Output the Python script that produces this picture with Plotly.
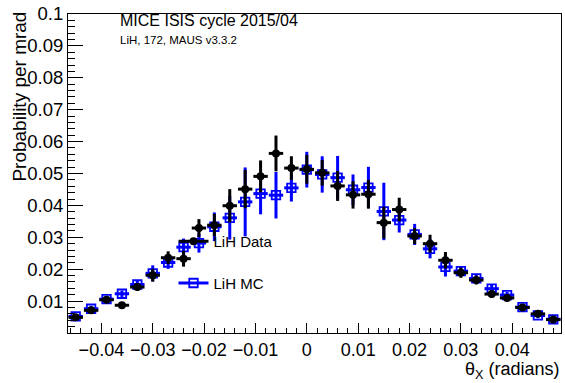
import plotly.graph_objects as go

# bin centres (radians)
theta_x = [-0.045, -0.042, -0.039, -0.036, -0.033, -0.030, -0.027, -0.024,
           -0.021, -0.018, -0.015, -0.012, -0.009, -0.006, -0.003, 0.000,
           0.003, 0.006, 0.009, 0.012, 0.015, 0.018, 0.021, 0.024,
           0.027, 0.030, 0.033, 0.036, 0.039, 0.042, 0.045, 0.048]

lih_data = [0.0049, 0.0071, 0.0104, 0.0087, 0.0144, 0.0181, 0.0236, 0.0233,
            0.0329, 0.0338, 0.0399, 0.0451, 0.0491, 0.0563, 0.0517, 0.0513,
            0.0502, 0.0461, 0.0433, 0.0435, 0.0346, 0.0387, 0.0304, 0.0280,
            0.0228, 0.0189, 0.0166, 0.0122, 0.0110, 0.0080, 0.0060, 0.0042]
lih_data_err = [0.0008, 0.0009, 0.0009, 0.0009, 0.0012, 0.0020, 0.0020, 0.0025,
                0.0028, 0.0035, 0.0052, 0.0060, 0.0050, 0.0056, 0.0037, 0.0045,
                0.0040, 0.0047, 0.0043, 0.0045, 0.0050, 0.0037, 0.0025, 0.0028,
                0.0026, 0.0016, 0.0014, 0.0012, 0.0010, 0.0010, 0.0009, 0.0008]

lih_mc = [0.0052, 0.0076, 0.0106, 0.0123, 0.0152, 0.0187, 0.0221, 0.0269,
          0.0282, 0.0333, 0.0361, 0.0411, 0.0437, 0.0432, 0.0455, 0.0512,
          0.0497, 0.0487, 0.0449, 0.0456, 0.0381, 0.0354, 0.0309, 0.0264,
          0.0207, 0.0194, 0.0171, 0.0139, 0.0119, 0.0081, 0.0055, 0.0043]
lih_mc_err = [0.0008, 0.0009, 0.0009, 0.0010, 0.0012, 0.0025, 0.0020, 0.0027,
              0.0030, 0.0045, 0.0068, 0.0108, 0.0065, 0.0073, 0.0043, 0.0056,
              0.0057, 0.0068, 0.0048, 0.0065, 0.0090, 0.0039, 0.0033, 0.0030,
              0.0030, 0.0016, 0.0014, 0.0012, 0.0010, 0.0010, 0.0009, 0.0008]

x_tick_vals = [-0.04, -0.03, -0.02, -0.01, 0.0, 0.01, 0.02, 0.03, 0.04]
x_tick_text = ["\u22120.04", "\u22120.03", "\u22120.02", "\u22120.01", "0",
               "0.01", "0.02", "0.03", "0.04"]
y_tick_vals = [0.01, 0.02, 0.03, 0.04, 0.05, 0.06, 0.07, 0.08, 0.09, 0.1]
y_tick_text = ["0.01", "0.02", "0.03", "0.04", "0.05", "0.06", "0.07",
               "0.08", "0.09", "0.1"]

FONT = "Liberation Sans, Arial, sans-serif"
BLUE = "#0000ff"

fig = go.Figure()

fig.add_trace(go.Scatter(
    x=theta_x, y=lih_mc, mode="markers", name="LiH MC", showlegend=False,
    marker=dict(symbol="square-open", size=8.5, color=BLUE, line=dict(width=1.8, color=BLUE)),
    error_y=dict(type="data", array=lih_mc_err, color=BLUE, thickness=3, width=0),
    error_x=dict(type="constant", value=0.0014, color=BLUE, thickness=3, width=0),
))
fig.add_trace(go.Scatter(
    x=theta_x, y=lih_data, mode="markers", name="LiH Data", showlegend=False,
    marker=dict(symbol="circle", size=8, color="black"),
    error_y=dict(type="data", array=lih_data_err, color="black", thickness=3, width=0),
    error_x=dict(type="constant", value=0.0014, color="black", thickness=3, width=0),
))

# legend entries
fig.add_trace(go.Scatter(
    x=[None], y=[None], mode="lines+markers", name="LiH Data", legend="legend",
    line=dict(color="black", width=3),
    marker=dict(symbol="circle", size=8, color="black"),
))
fig.add_trace(go.Scatter(
    x=[None], y=[None], mode="lines+markers", name="LiH MC", legend="legend2",
    line=dict(color=BLUE, width=3),
    marker=dict(symbol="square-open", size=8.5, color=BLUE, line=dict(width=1.8, color=BLUE)),
))

fig.update_layout(
    width=565, height=383,
    margin=dict(l=68, r=3, t=12, b=50),
    paper_bgcolor="white", plot_bgcolor="white",
    font=dict(family=FONT, size=18, color="black"),
    legend=dict(x=0.214, y=0.287, xanchor="left", yanchor="middle",
                bgcolor="rgba(0,0,0,0)", font=dict(size=15, family=FONT)),
    legend2=dict(x=0.214, y=0.156, xanchor="left", yanchor="middle",
                 bgcolor="rgba(0,0,0,0)", font=dict(size=15, family=FONT)),
)

fig.update_xaxes(
    range=[-0.0465, 0.0495], showgrid=False, zeroline=False,
    showline=True, linecolor="black", linewidth=1, mirror=True,
    ticks="inside", ticklen=10, tickwidth=1, tickcolor="black",
    tickvals=x_tick_vals, ticktext=x_tick_text,
    tickfont=dict(size=18, family=FONT),
    minor=dict(ticks="inside", ticklen=5, dtick=0.002, tick0=0, tickcolor="black", showgrid=False),
)
fig.update_yaxes(
    range=[0, 0.1], showgrid=False, zeroline=False,
    showline=True, linecolor="black", linewidth=1, mirror=True,
    ticks="inside", ticklen=15, tickwidth=1, tickcolor="black",
    tickvals=y_tick_vals, ticktext=y_tick_text,
    tickfont=dict(size=18.5, family=FONT),
    minor=dict(ticks="inside", ticklen=7, dtick=0.002, tick0=0, tickcolor="black", showgrid=False),
)

fig.add_annotation(
    text="MICE ISIS cycle 2015/04", xref="paper", yref="paper",
    x=(118 - 68) / 494, y=(333 - 19) / 321, xanchor="left", yanchor="middle",
    showarrow=False, font=dict(size=16, family=FONT),
)
fig.add_annotation(
    text="LiH, 172, MAUS v3.3.2", xref="paper", yref="paper",
    x=(118 - 68) / 494, y=(333 - 38) / 321, xanchor="left", yanchor="middle",
    showarrow=False, font=dict(size=11.5, family=FONT),
)
fig.add_annotation(
    text="Probability per mrad", xref="paper", yref="paper",
    x=(19 - 68) / 494, y=(333 - 95) / 321, xanchor="center", yanchor="middle",
    textangle=-90, showarrow=False, font=dict(size=19, family=FONT),
)
fig.add_annotation(
    text="\u03b8<sub>X</sub> (radians)", xref="paper", yref="paper",
    x=1.0, y=(333 - 371) / 321, xanchor="right", yanchor="middle",
    showarrow=False, font=dict(size=18, family=FONT),
)

fig.write_html("out.html")
